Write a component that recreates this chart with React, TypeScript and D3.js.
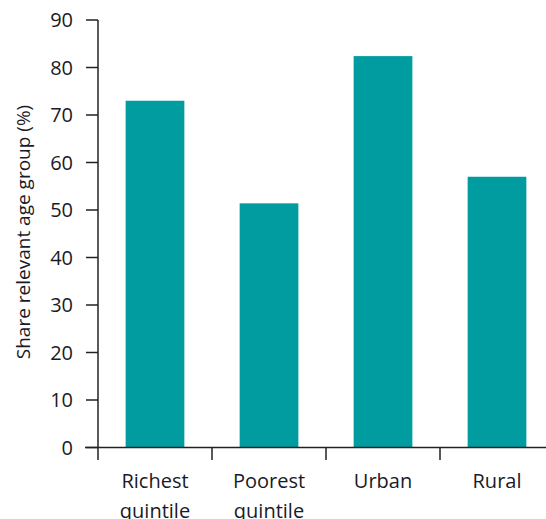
import React from "react";
import * as d3 from "d3";

const categories: string[][] = [["Richest", "quintile"], ["Poorest", "quintile"], ["Urban"], ["Rural"]];
const values: number[] = [73, 51.4, 82.4, 57];
const yTicks: number[] = [0, 10, 20, 30, 40, 50, 60, 70, 80, 90];
const yTitle = "Share relevant age group (%)";

export default function App() {
  const W = 546, H = 519;
  const font = "'Open Sans', sans-serif";
  const color = "#009ca0";
  const textColor = "#1a1a26";
  const keys = categories.map((c) => c.join(" "));
  const x = d3.scaleBand<string>().domain(keys).range([98, 554]).padding(0);
  const y = d3.scaleLinear().domain([0, 90]).range([447.5, 20]);
  const barW = x.bandwidth() * 0.515;
  return (
    <svg width={W} height={H} style={{ position: "absolute", left: 0, top: 0, display: "block" }}>
      {values.map((v, i) => {
        const cx = (x(keys[i]) as number) + x.bandwidth() / 2;
        return <rect key={i} x={cx - barW / 2} y={y(v)} width={barW} height={y(0) - y(v)} fill={color} />;
      })}
      {/* y axis */}
      <line x1={98} x2={98} y1={y(90)} y2={y(0)} stroke="#222" strokeWidth={1.5} />
      {yTicks.map((t) => (
        <g key={t}>
          <line x1={86} x2={98} y1={y(t)} y2={y(t)} stroke="#222" strokeWidth={1.5} />
          <text x={73} y={y(t)} dy="0.35em" textAnchor="end" fontFamily={font} fontSize={20} fill={textColor}>
            {t}
          </text>
        </g>
      ))}
      {/* x axis */}
      <line x1={85} x2={W} y1={y(0)} y2={y(0)} stroke="#222" strokeWidth={1.5} />
      {keys.map((k) => (
        <line key={k} x1={x(k) as number} x2={x(k) as number} y1={y(0)} y2={460} stroke="#222" strokeWidth={1.5} />
      ))}
      {categories.map((lines, i) => {
        const cx = (x(keys[i]) as number) + x.bandwidth() / 2;
        return (
          <text key={i} x={cx} y={488} textAnchor="middle" fontFamily={font} fontSize={20} fill={textColor}>
            {lines.map((l, j) => (
              <tspan key={j} x={cx} dy={j === 0 ? 0 : 30}>
                {l}
              </tspan>
            ))}
          </text>
        );
      })}
      <text
        transform={`translate(30, 232) rotate(-90)`}
        textAnchor="middle"
        fontFamily={font}
        fontSize={19}
        fill={textColor}
      >
        {yTitle}
      </text>
    </svg>
  );
}
